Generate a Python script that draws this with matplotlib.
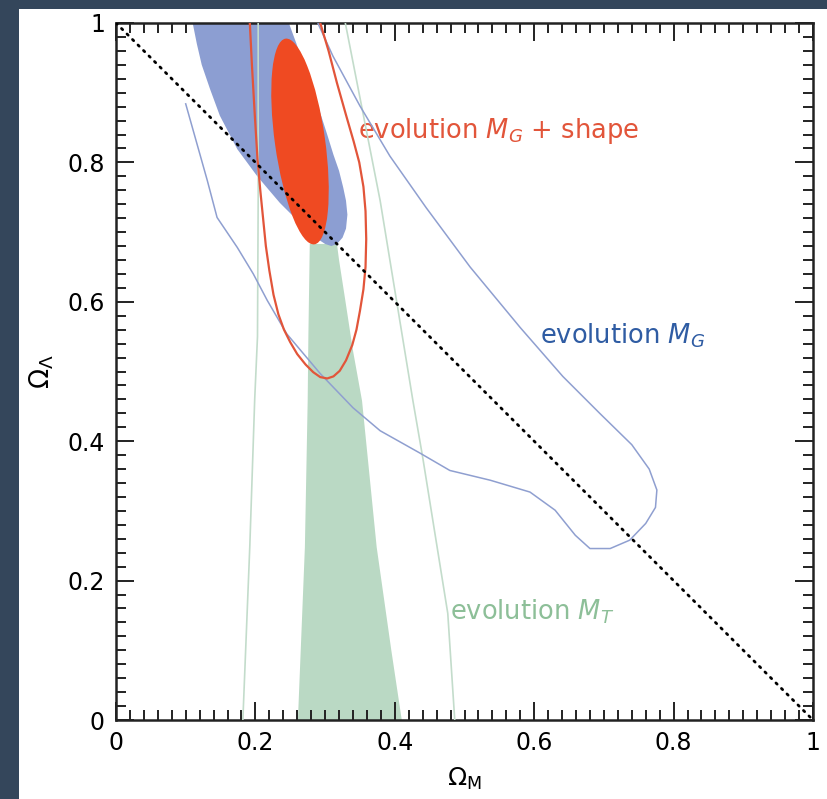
import matplotlib
matplotlib.use('Agg')
import matplotlib.pyplot as plt
from matplotlib.patches import Ellipse, Rectangle
from matplotlib.ticker import MultipleLocator, FixedLocator

plt.rcParams['font.family'] = ['DejaVu Sans']
plt.rcParams['mathtext.fontset'] = 'dejavusans'

# --- data -----------------------------------------------------------------
# filled blue region (evolution M_G + M_T combined)
blue_fill_x = [0.110, 0.116, 0.123, 0.135, 0.149, 0.162, 0.174, 0.188, 0.202, 0.218,
               0.235, 0.250, 0.264, 0.278, 0.288, 0.300, 0.309, 0.317, 0.325, 0.330,
               0.332, 0.330, 0.326, 0.320, 0.312, 0.303, 0.294, 0.282, 0.269, 0.259, 0.248]
blue_fill_y = [1.000, 0.970, 0.940, 0.905, 0.867, 0.842, 0.819, 0.800, 0.781, 0.762,
               0.742, 0.727, 0.713, 0.700, 0.691, 0.683, 0.680, 0.683, 0.692, 0.705,
               0.725, 0.745, 0.764, 0.788, 0.811, 0.840, 0.868, 0.905, 0.940, 0.970, 1.000]

# filled red ellipse (evolution M_G + shape, inner)
red_center = (0.264, 0.830)
red_axes = (0.072, 0.298)   # full minor, full major
red_angle = 8.0

# red outer contour
red_line_x = [0.190, 0.192, 0.195, 0.199, 0.203, 0.207, 0.211, 0.215, 0.220, 0.226,
              0.233, 0.241, 0.250, 0.260, 0.272, 0.283, 0.293, 0.303, 0.312, 0.321,
              0.330, 0.339, 0.345, 0.350, 0.355, 0.358, 0.359, 0.358, 0.355, 0.349,
              0.341, 0.330, 0.317, 0.305, 0.293, 0.291]
red_line_y = [1.020, 1.000, 0.940, 0.870, 0.805, 0.760, 0.720, 0.680, 0.645, 0.610,
              0.582, 0.560, 0.542, 0.525, 0.510, 0.499, 0.492, 0.490, 0.493, 0.501,
              0.516, 0.538, 0.560, 0.587, 0.618, 0.650, 0.690, 0.730, 0.765, 0.800,
              0.830, 0.868, 0.914, 0.960, 1.000, 1.020]

# blue outer contour (evolution M_G)
blue_line_x = [0.100, 0.131, 0.145, 0.174, 0.197, 0.217, 0.245, 0.293, 0.340, 0.379,
               0.436, 0.479, 0.537, 0.594, 0.630, 0.659, 0.680, 0.709, 0.737, 0.760,
               0.774, 0.776, 0.765, 0.740, 0.694, 0.641, 0.580, 0.508, 0.445, 0.393,
               0.350, 0.311, 0.290]
blue_line_y = [0.884, 0.774, 0.721, 0.678, 0.640, 0.602, 0.554, 0.497, 0.448, 0.415,
               0.383, 0.358, 0.344, 0.327, 0.301, 0.265, 0.246, 0.246, 0.258, 0.282,
               0.305, 0.330, 0.360, 0.395, 0.440, 0.493, 0.563, 0.650, 0.735, 0.809,
               0.881, 0.953, 0.999]

# filled green wedge (evolution M_T)
green_fill_x = [0.278, 0.276, 0.275, 0.271, 0.261, 0.410, 0.395, 0.374, 0.353,
                0.340, 0.329, 0.320, 0.317]
green_fill_y = [0.683, 0.550, 0.458, 0.248, 0.000, 0.000, 0.100, 0.248, 0.458,
                0.530, 0.602, 0.660, 0.683]

# thin green outer contour (two branches)
green_left_x = [0.204, 0.204, 0.203, 0.199, 0.192, 0.182]
green_left_y = [1.000, 0.750, 0.550, 0.460, 0.250, 0.000]
green_right_x = [0.329, 0.379, 0.426, 0.440, 0.476, 0.486]
green_right_y = [1.000, 0.745, 0.458, 0.377, 0.153, 0.000]

flat_x = [0.0, 1.0]
flat_y = [1.0, 0.0]

tick_vals = [0, 0.2, 0.4, 0.6, 0.8, 1]
tick_labels = ['0', '0.2', '0.4', '0.6', '0.8', '1']

RED = '#ef4a22'
RED_LINE = '#e2553a'
BLUE_FILL = '#8c9ed2'
BLUE_LINE = '#8f9fd0'
BLUE_TEXT = '#2f5ca3'
GREEN_FILL = '#bad9c4'
GREEN_LINE = '#c3dccb'
GREEN_TEXT = '#8dbf98'

# --- figure ----------------------------------------------------------------
fig = plt.figure(figsize=(8.27, 7.99), dpi=100, facecolor='#34465b')
fig.patches.append(Rectangle((19 / 827, 0), 1, 1 - 9 / 799, transform=fig.transFigure,
                             facecolor='white', edgecolor='none', zorder=-5))
ax = fig.add_axes([116 / 827, 1 - 720 / 799, 697 / 827, 697 / 799])
ax.set_zorder(2)

ax.fill(green_fill_x, green_fill_y, color=GREEN_FILL, lw=0, zorder=1)
ax.fill(blue_fill_x, blue_fill_y, color=BLUE_FILL, lw=0, zorder=2)
ax.add_patch(Ellipse(red_center, red_axes[0], red_axes[1], angle=red_angle,
                     facecolor=RED, edgecolor='none', zorder=3))

ax.plot(green_left_x, green_left_y, color=GREEN_LINE, lw=1.2, zorder=4)
ax.plot(green_right_x, green_right_y, color=GREEN_LINE, lw=1.2, zorder=4)
ax.plot(blue_line_x, blue_line_y, color=BLUE_LINE, lw=1.1, zorder=4)
ax.plot(red_line_x, red_line_y, color=RED_LINE, lw=1.6, zorder=5)
ax.plot(flat_x, flat_y, color='black', lw=2.0, ls=(0, (0.6, 2.2)),
        dash_capstyle='round', zorder=6)

ax.text(0.347, 0.845, r'evolution $M_G$ + shape', color=RED_LINE, fontsize=18.5,
        va='center', ha='left')
ax.text(0.609, 0.552, r'evolution $M_G$', color=BLUE_TEXT, fontsize=18.5,
        va='center', ha='left')
ax.text(0.479, 0.155, r'evolution $M_T$', color=GREEN_TEXT, fontsize=18.5,
        va='center', ha='left')

ax.set_xlim(0, 1)
ax.set_ylim(0, 1)
ax.xaxis.set_major_locator(FixedLocator(tick_vals))
ax.yaxis.set_major_locator(FixedLocator(tick_vals))
ax.set_xticklabels(tick_labels)
ax.set_yticklabels(tick_labels)
ax.xaxis.set_minor_locator(MultipleLocator(0.02))
ax.yaxis.set_minor_locator(MultipleLocator(0.02))
ax.tick_params(which='both', direction='in', top=True, right=True,
               width=1.4, colors='#222222', labelsize=17, labelcolor='black')
ax.tick_params(which='major', length=13, pad=8)
ax.tick_params(which='minor', length=7)
for s in ax.spines.values():
    s.set_linewidth(1.8)
    s.set_color('#222222')

ax.set_xlabel(r'$\Omega_{\mathrm{M}}$', fontsize=18, labelpad=8)
ax.set_ylabel(r'$\Omega_{\Lambda}$', fontsize=19, labelpad=8)

fig.savefig('out.png', dpi=100, facecolor=fig.get_facecolor())
